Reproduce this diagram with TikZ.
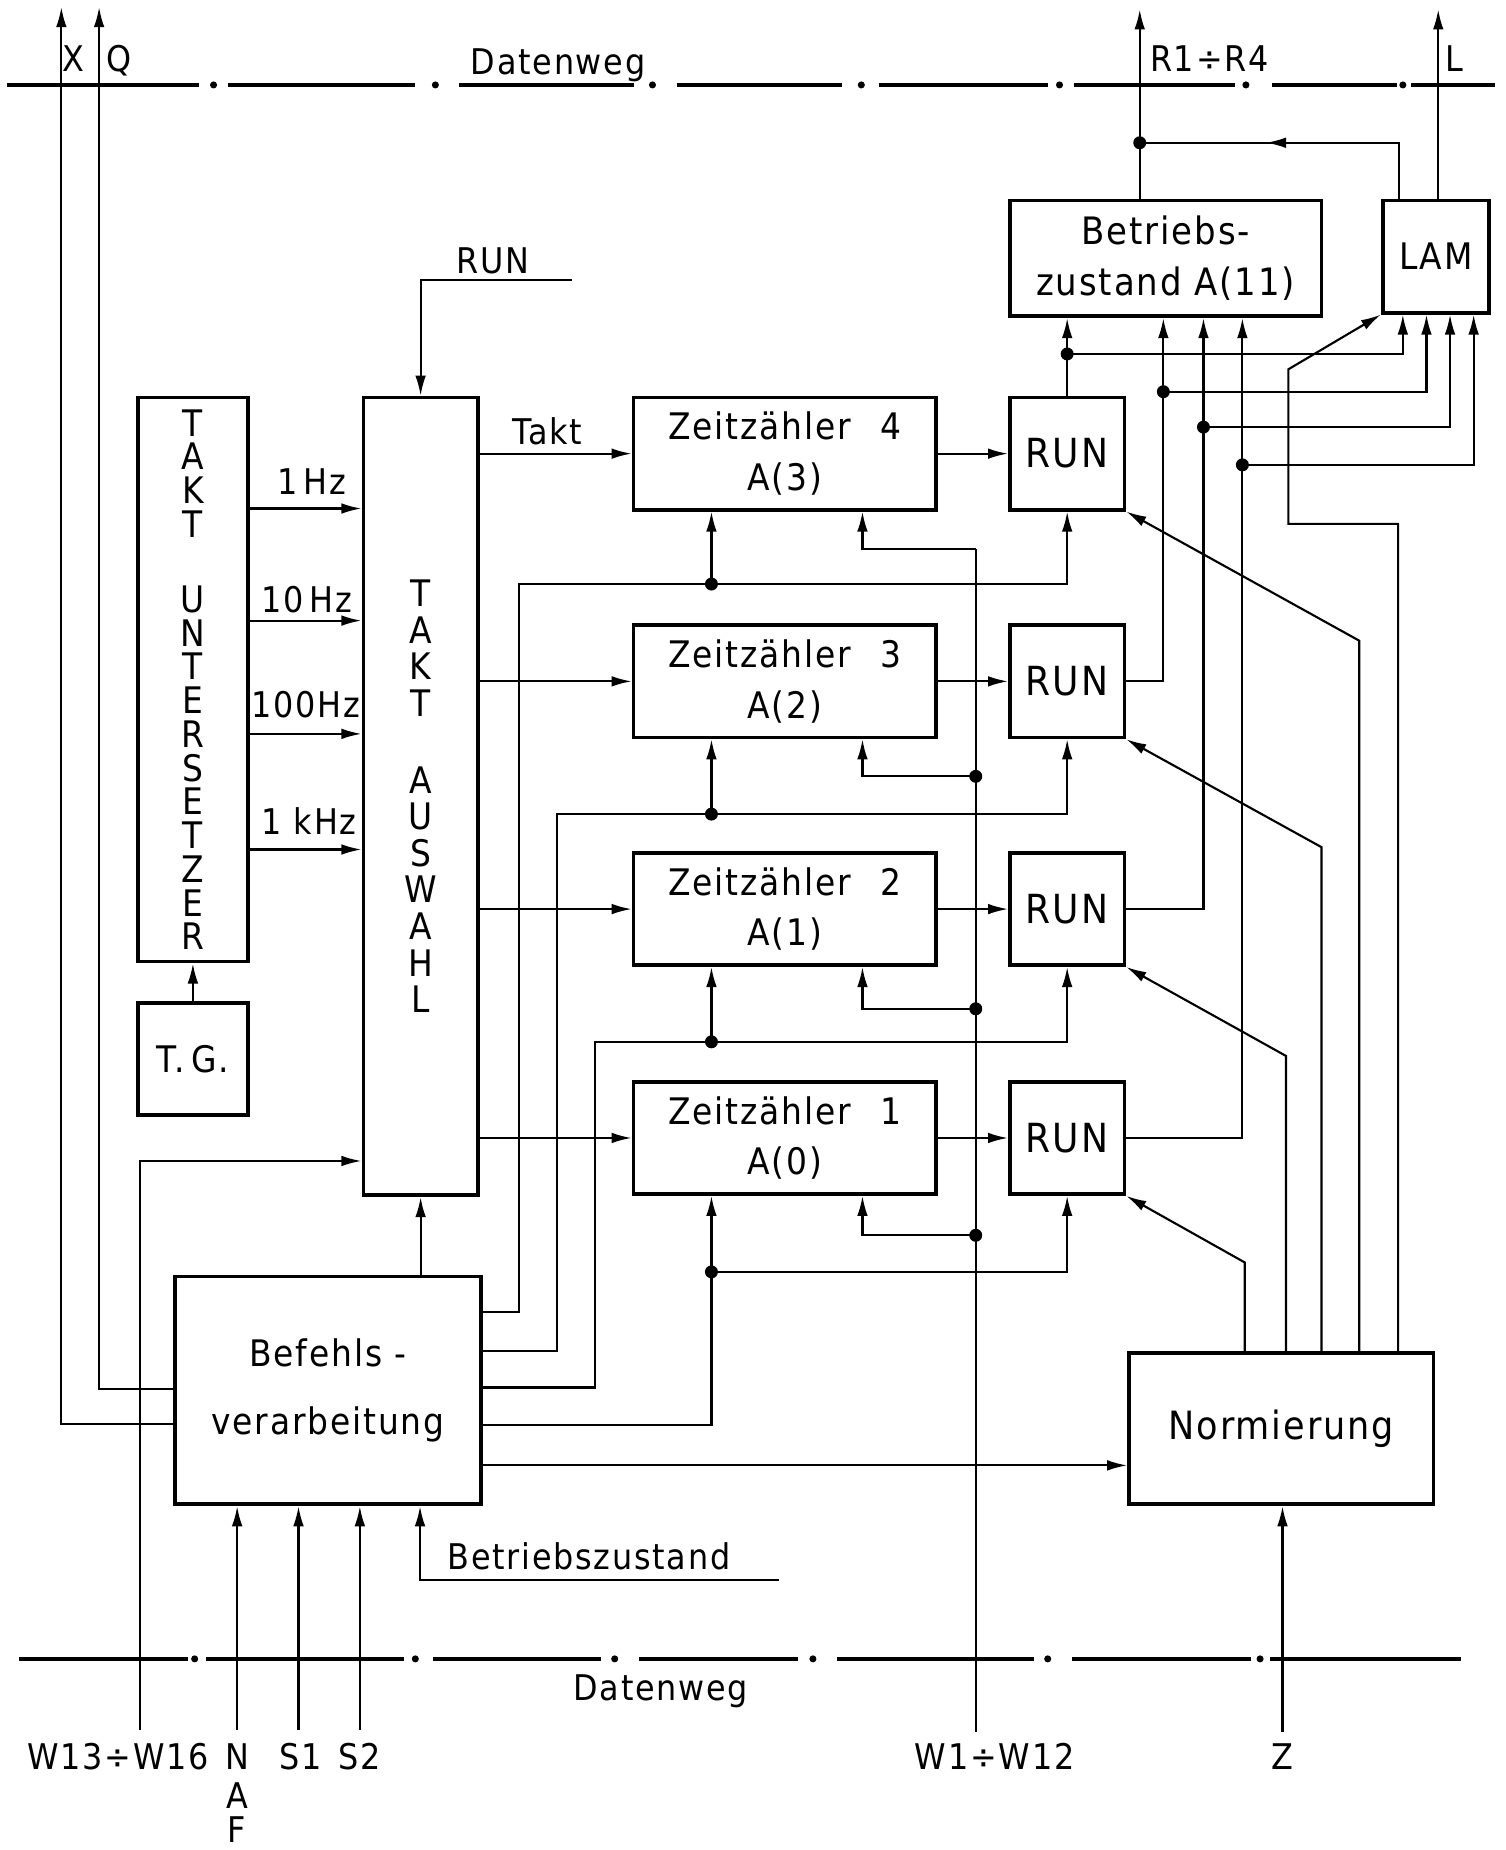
\documentclass[tikz,border=0pt]{standalone}
\usepackage{fontspec}
\setmainfont{DejaVu Sans Condensed}[LetterSpace=5.0]
\usetikzlibrary{arrows.meta,decorations.markings}
\newcommand\myfs[2]{\fontsize{#1}{#2}\selectfont}
\begin{document}
\begin{tikzpicture}[x=1pt,y=-1pt,
  box/.style={draw,line width=3.2pt,inner sep=0pt,align=center,font=\myfs{31}{43}},
  ln/.style={line width=1.8pt},
  arr/.style={ln,-{Latex[length=17pt,width=9pt]}},
  dot/.style={circle,fill,inner sep=0pt,minimum size=11pt},
  lbl/.style={inner sep=0pt,font=\myfs{30}{34}},
  bus/.style={line width=3.4pt},
  midarr/.style={postaction={decorate},decoration={markings,mark=at position #1 with {\arrow{Latex[length=17pt,width=9pt]}}}}
]
\useasboundingbox (0,0) rectangle (1276,1568);

% ---------- Datenweg buses
\foreach \a/\b in {6/169,193/352,389/537,574/714,745/888,910/1047,1078/1184,1196/1267}
  \draw[bus] (\a,72) -- (\b,72);
\foreach \a in {181,369,553,730,898,1056,1189}
  \fill (\a,72) circle (3pt);
\foreach \a/\b in {16/159,175/342,367/509,542/676,709/876,909/1060,1076/1238}
  \draw[bus] (\a,1406) -- (\b,1406);
\foreach \a in {165,352,521,689,888,1068}
  \fill (\a,1406) circle (3pt);
\node[lbl,anchor=base] (dwtop) at (473,63) {Datenweg};
\node[lbl,anchor=base] (dwbot) at (560,1441) {Datenweg};

% ---------- boxes
\node[box,minimum width=93pt,minimum height=478pt,font=\myfs{31}{28.6}] (tu) at (163.5,576)
  {T\\A\\K\\T\\[35pt]U\\N\\T\\E\\R\\S\\E\\T\\Z\\E\\R};
\node[box,minimum width=93pt,minimum height=95pt] (tg) at (163.5,897.5) {T.\,G.};
\node[box,minimum width=97pt,minimum height=676pt,font=\myfs{31}{31}] (ta) at (356.5,675)
  {T\\A\\K\\T\\[34pt]A\\U\\S\\W\\A\\H\\L};
\foreach \i/\y/\a in {4/384.5/3,3/577.5/2,2/770.5/1,1/964.5/0}{
  \node[box,minimum width=256pt,minimum height=95pt] (zz\i) at (665,\y) {Zeitzähler\hspace{0.8em}\i\\A(\a)};
  \node[box,minimum width=97pt,minimum height=95pt,font=\myfs{34}{40}] (run\i) at (904.5,\y) {RUN};
}
\node[box,minimum width=264pt,minimum height=98pt,font=\myfs{32}{43}] (bz) at (988,219) {Betriebs-\\zustand A(11)};
\node[box,minimum width=90pt,minimum height=95pt] (lam) at (1217,217.5) {LAM};
\node[box,minimum width=260pt,minimum height=193pt,font=\myfs{31}{57}] (bef) at (278,1178.5) {Befehls -\\verarbeitung};
\node[box,minimum width=258pt,minimum height=128pt,font=\myfs{33}{40}] (norm) at (1086,1211) {Normierung};

% ---------- labels
\node[lbl,anchor=base] (lx) at (62,61) {X};
\node[lbl,anchor=base] (lq) at (101,61) {Q};
\node[lbl,anchor=base] (lr) at (1025,61) {R1÷R4};
\node[lbl,anchor=base] (ll) at (1233,61) {L};
\node[lbl,anchor=base] (lrun) at (418,232) {RUN};
\node[lbl,anchor=base] (ltakt) at (464,377) {Takt};
\node[lbl,anchor=base] (f1) at (264,419) {1\,Hz};
\node[lbl,anchor=base] (f2) at (260,519) {10\,Hz};
\node[lbl,anchor=base] (f3) at (259,608) {100Hz};
\node[lbl,anchor=base] (f4) at (262,707) {1 kHz};
\node[lbl,anchor=base west] (lbz) at (379,1330) {Betriebszustand};
\node[lbl,anchor=base] (lw13) at (100,1500) {W13÷W16};
\node[lbl,anchor=base] (ln1) at (201,1500) {N};
\node[lbl,anchor=base] (ln2) at (201,1533) {A};
\node[lbl,anchor=base] (ln3) at (201,1562) {F};
\node[lbl,anchor=base] (ls1) at (255,1500) {S1};
\node[lbl,anchor=base] (ls2) at (305,1500) {S2};
\node[lbl,anchor=base] (lw1) at (843,1500) {W1÷W12};
\node[lbl,anchor=base] (lz) at (1087,1500) {Z};

% ---------- coordinates
\coordinate (runin) at (485,237);
\coordinate (xtop) at (52,6);
\coordinate (qtop) at (84,6);
\coordinate (w13) at (119,1466);
\coordinate (nin) at (201,1466);
\coordinate (s1in) at (253,1466);
\coordinate (s2in) at (305,1466);
\coordinate (bzin) at (660,1339);
\coordinate (zin) at (1087,1468);
\coordinate (wbot) at (827,1468);
\coordinate (wtop) at (827,465);
\coordinate (j4) at (603,495);
\coordinate (j3) at (603,690);
\coordinate (j2) at (603,883);
\coordinate (j1) at (603,1078);
\coordinate (k3) at (827,658);
\coordinate (k2) at (827,855);
\coordinate (k1) at (827,1047);
\coordinate (c4) at (904.5,300);
\coordinate (c3) at (986,332);
\coordinate (c2) at (1020,362);
\coordinate (c1) at (1053,394);
\coordinate (jr) at (966,121);
\coordinate (rtop) at (966,8);
\coordinate (ltop) at (1219,8);

% ---------- connectors
\draw[arr] (runin) -| (ta.north);
\foreach \y in {431,526,622,720} \draw[arr] (tu.east |- 0,\y) -- (ta.west |- 0,\y);
\foreach \i in {1,2,3,4}{
  \draw[arr] (ta.east |- zz\i.west) -- (zz\i.west);
  \draw[arr] (zz\i.east) -- (run\i.west);
}
\draw[arr] (tg.north) -- (tu.south);
\draw[arr] (bef.north -| ta.south) -- (ta.south);
\draw[arr] (w13) |- (ta.west |- 0,984);
\draw[arr] (bef.west |- 0,1207) -| (xtop);
\draw[arr] (bef.west |- 0,1177) -| (qtop);
\draw[arr] (nin) -- (bef.south -| nin);
\draw[arr] (s1in) -- (bef.south -| s1in);
\draw[arr] (s2in) -- (bef.south -| s2in);
\draw[arr] (bzin) -| (bef.south -| 356,0);

% Befehls -> counters / RUN
\draw[ln] (bef.east |- 0,1112) -- (440,1112) -- (440,495) -- (j4);
\draw[arr] (j4) -| (run4.south);
\draw[arr] (j4) -- (zz4.south -| j4);
\draw[ln] (bef.east |- 0,1145) -- (472,1145) -- (472,690) -- (j3);
\draw[arr] (j3) -| (run3.south);
\draw[arr] (j3) -- (zz3.south -| j3);
\draw[ln] (bef.east |- 0,1176) -- (504,1176) -- (504,883) -- (j2);
\draw[arr] (j2) -| (run2.south);
\draw[arr] (j2) -- (zz2.south -| j2);
\draw[ln] (bef.east |- 0,1208) -| (j1);
\draw[arr] (j1) -| (run1.south);
\draw[arr] (j1) -- (zz1.south -| j1);

% Normierung
\draw[arr] (bef.east |- 0,1242) -- (norm.west |- 0,1242);
\draw[arr] (zin) -- (norm.south -| zin);

% W1 / W12
\draw[ln] (wbot) -- (wtop);
\draw[arr] (wtop) -| (zz4.south -| 731,0);
\draw[arr] (k3) -| (zz3.south -| 731,0);
\draw[arr] (k2) -| (zz2.south -| 731,0);
\draw[arr] (k1) -| (zz1.south -| 731,0);

% RUN -> Betriebszustand / LAM
\draw[arr] (run4.north) -- (bz.south -| run4.north);
\draw[arr] (c4) -| (lam.south -| 1189,0);
\draw[arr] (run3.east) -| (bz.south -| c3);
\draw[arr] (c3) -| (lam.south -| 1209,0);
\draw[arr] (run2.east) -| (bz.south -| c2);
\draw[arr] (c2) -| (lam.south -| 1229,0);
\draw[arr] (run1.east) -| (bz.south -| c1);
\draw[arr] (c1) -| (lam.south -| 1249,0);

% top outputs
\draw[ln,midarr=0.6] (lam.north -| 1186,0) |- (jr);
\draw[arr] (bz.north -| jr) -- (rtop);
\draw[arr] (lam.north -| ltop) -- (ltop);

% Normierung -> RUN / LAM
\draw[arr] (norm.north -| 1055,0) -- (1055,1070) -- (run1.south east);
\draw[arr] (norm.north -| 1090,0) -- (1090,895) -- (run2.south east);
\draw[arr] (norm.north -| 1120,0) -- (1120,718) -- (run3.south east);
\draw[arr] (norm.north -| 1152,0) -- (1152,543) -- (run4.south east);
\draw[arr] (norm.north -| 1185,0) -- (1185,444) -- (1092,444) -- (1092,313) -- (lam.south west);

% underline of Betriebszustand
\draw[ln] (bzin) -- (356,1339);

% ---------- junction dots
\foreach \p in {j1,j2,j3,j4,k1,k2,k3,c1,c2,c3,c4,jr}
  \node[dot] (dot\p) at (\p) {};
\end{tikzpicture}
\end{document}
